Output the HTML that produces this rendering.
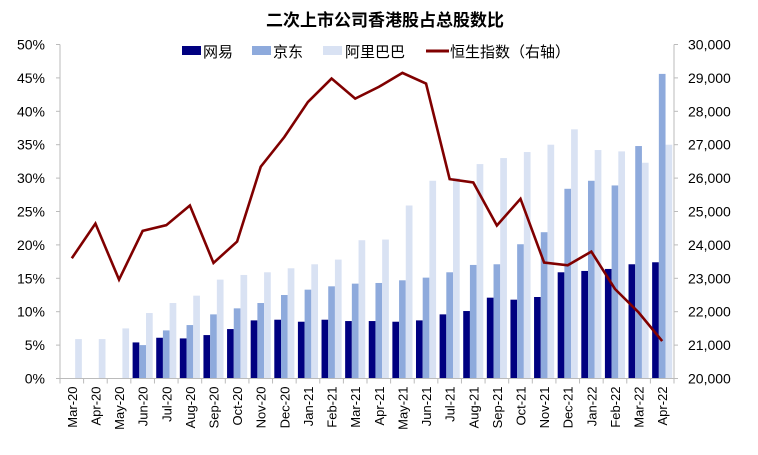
<!DOCTYPE html>
<html><head><meta charset="utf-8"><style>
body{margin:0;background:#fff;}
svg text{font-family:"Liberation Sans","Noto Sans CJK SC",sans-serif;fill:#000;}
</style></head><body>
<svg id="chart" width="758" height="450" xmlns="http://www.w3.org/2000/svg">
<text x="385" y="26" text-anchor="middle" font-size="17" font-weight="bold">二次上市公司香港股占总股数比</text>
<g id="grid"></g><g id="bars"></g><g id="line"></g><g id="axes"></g>
<g font-size="15">
<rect x="182" y="46" width="19" height="9" fill="#000080"/>
<text x="203" y="57">网易</text>
<rect x="252" y="46" width="19" height="9" fill="#8eaadc"/>
<text x="273" y="57">京东</text>
<rect x="323" y="46" width="19" height="9" fill="#d9e2f3"/>
<text x="345" y="57">阿里巴巴</text>
<line x1="426" y1="51" x2="449" y2="51" stroke="#800000" stroke-width="3"/>
<text x="450" y="57">恒生指数（右轴）</text>
</g>
</svg>
<script>
const categories=["Mar-20","Apr-20","May-20","Jun-20","Jul-20","Aug-20","Sep-20","Oct-20","Nov-20","Dec-20","Jan-21","Feb-21","Mar-21","Apr-21","May-21","Jun-21","Jul-21","Aug-21","Sep-21","Oct-21","Nov-21","Dec-21","Jan-22","Feb-22","Mar-22","Apr-22"];
const netease=[0,0,0,5.4,6.1,6.0,6.5,7.4,8.7,8.8,8.5,8.8,8.6,8.6,8.5,8.7,9.6,10.1,12.1,11.8,12.2,15.9,16.1,16.4,17.1,17.4];
const jd=[0,0,0,5.0,7.2,8.0,9.6,10.5,11.3,12.5,13.3,13.8,14.2,14.3,14.7,15.1,15.9,17.0,17.1,20.1,21.9,28.4,29.6,28.9,34.8,45.6];
const alibaba=[5.9,5.9,7.5,9.8,11.3,12.4,14.8,15.5,15.9,16.5,17.1,17.8,20.7,20.8,25.9,29.6,30.0,32.1,33.0,33.9,35.0,37.3,34.2,34.0,32.3,35.0];
const hsi=[23600,24640,22960,24420,24590,25180,23460,24100,26340,27230,28280,28980,28380,28730,29150,28830,25970,25870,24580,25380,23470,23390,23800,22680,21980,21120];
const leftTicks=["0%","5%","10%","15%","20%","25%","30%","35%","40%","45%","50%"];
const rightTicks=["20,000","21,000","22,000","23,000","24,000","25,000","26,000","27,000","28,000","29,000","30,000"];
const NS="http://www.w3.org/2000/svg";
const X0=60,X1=674,Y0=378.5,Y1=44.5;
const cw=(X1-X0)/categories.length;
const yL=v=>Y0-(v/50)*(Y0-Y1);
const yR=v=>Y0-((v-20000)/10000)*(Y0-Y1);
const xC=i=>X0+cw*(i+0.5);
function mk(t,a,p){const e=document.createElementNS(NS,t);for(const k in a)e.setAttribute(k,a[k]);p.appendChild(e);return e;}
const bars=document.getElementById('bars'),axes=document.getElementById('axes'),line=document.getElementById('line');
const bw=6.7;
[[netease,"#000080","netease"],[jd,"#8eaadc","jd"],[alibaba,"#d9e2f3","alibaba"]].forEach((s,si)=>{
 s[0].forEach((v,i)=>{ if(v<=0)return;
  const r=mk('rect',{x:xC(i)-1.5*bw+si*bw,y:yL(v),width:bw,height:Y0-yL(v),fill:s[1]},bars);
  
  
 });
});
const pts=hsi.map((v,i)=>xC(i)+','+yR(v)).join(' ');
const pl=mk('polyline',{points:pts,fill:'none',stroke:'#800000','stroke-width':2.6,'stroke-linejoin':'miter'},line);


const la=mk('line',{x1:X0,y1:Y1,x2:X0,y2:Y0,stroke:'#bbb'},axes);


const ra=mk('line',{x1:X1,y1:Y1,x2:X1,y2:Y0,stroke:'#bbb'},axes);


const xa=mk('line',{x1:X0,y1:Y0,x2:X1,y2:Y0,stroke:'#bbb'},axes);


leftTicks.forEach((t,i)=>{const y=Y0-i*(Y0-Y1)/10;
 mk('line',{x1:X0-4,y1:y,x2:X0,y2:y,stroke:'#bbb'},axes);
 const e=mk('text',{x:45,y:y+5,'text-anchor':'end','font-size':14},axes);e.textContent=t;
 
 
 mk('line',{x1:X1,y1:y,x2:X1+4,y2:y,stroke:'#bbb'},axes);
 const r=mk('text',{x:688,y:y+5,'font-size':14},axes);r.textContent=rightTicks[i];
 
 
});
categories.forEach((c,i)=>{
 const xt=X0+cw*i; mk('line',{x1:xt,y1:Y0,x2:xt,y2:Y0+5,stroke:'#bbb'},axes);
 const x=xC(i)+5,y=Y0+8;
 const e=mk('text',{x:x,y:y,'text-anchor':'end','font-size':13,transform:`rotate(-90 ${x} ${y})`},axes);e.textContent=c;
 
 
});
mk('line',{x1:X1,y1:Y0,x2:X1,y2:Y0+5,stroke:'#bbb'},axes);
</script>
</body></html>
